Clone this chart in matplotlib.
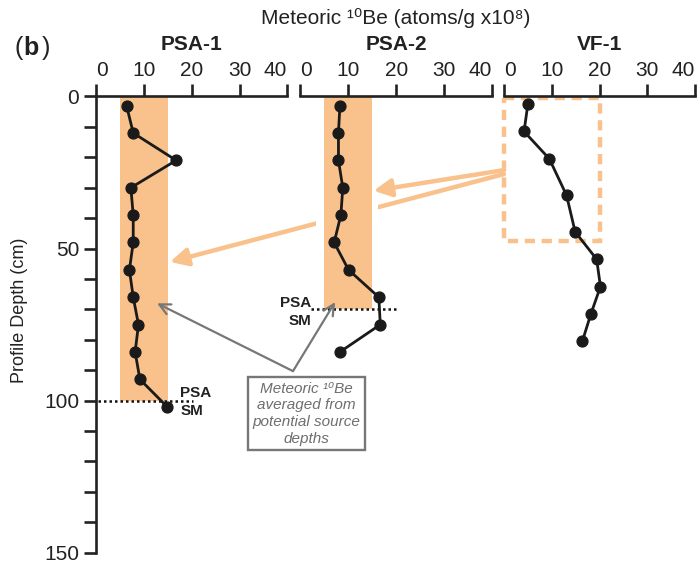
import matplotlib
matplotlib.use("Agg")
import matplotlib.pyplot as plt
from matplotlib.patches import ConnectionPatch, Rectangle

plt.rcParams['font.family'] = ['Liberation Sans', 'DejaVu Sans']

# ---- data ----
psa1_conc = [6.3, 7.7, 16.7, 7.2, 7.7, 7.7, 6.9, 7.7, 8.8, 8.1, 9.1, 14.8]
psa1_depth = [3, 12, 21, 30, 39, 48, 57, 66, 75, 84, 93, 102]
psa2_conc = [8.3, 8.0, 8.0, 8.9, 8.5, 7.1, 10.1, 16.4, 16.7, 8.3]
psa2_depth = [3, 12, 21, 30, 39, 48, 57, 66, 75, 84]
vf1_conc = [5.0, 4.2, 9.5, 13.1, 14.9, 19.4, 20.2, 18.2, 16.4]
vf1_depth = [2.5, 11.5, 20.5, 32.5, 44.5, 53.5, 62.5, 71.5, 80.5]

profile_names = ["PSA-1", "PSA-2", "VF-1"]
x_ticks = [0, 10, 20, 30, 40]
x_tick_labels = ["0", "10", "20", "30", "40"]
y_major = [0, 50, 100, 150]
y_minor = list(range(0, 151, 10))

band_x = (5, 15)          # averaged source range
psa1_sm_depth = 100
psa2_sm_depth = 70
vf1_source_depth = (0.5, 47.5)
vf1_source_x = (0, 20.2)

W, H = 700, 562
fig = plt.figure(figsize=(W / 100, H / 100), dpi=100)
fig.patch.set_facecolor("white")

ORANGE = "#F9C18C"
GRAY = "#777777"
INK = "#222222"
LW = 1.9

def fx(p):
    return p / W

bottom = 1 - 552.7 / H
height = (552.7 - 96.5) / H
lefts_px = [96.5, 300.0, 504.0]
widths_px = [190.8, 192.3, 191.0]
axes = []
for lp, wp in zip(lefts_px, widths_px):
    ax = fig.add_axes([fx(lp), bottom, fx(wp), height])
    ax.patch.set_visible(False)
    ax.set_xlim(0, 40)
    ax.set_ylim(150, 0)
    ax.xaxis.tick_top()
    ax.set_xticks(x_ticks, labels=x_tick_labels)
    ax.tick_params(axis="x", direction="out", length=8.5, width=LW,
                   labelsize=15, pad=3.5, colors=INK)
    lbls = ax.get_xticklabels()
    lbls[0].set_horizontalalignment("left")
    lbls[-1].set_horizontalalignment("right")
    for s in ["right", "bottom"]:
        ax.spines[s].set_visible(False)
    ax.spines["top"].set_linewidth(LW)
    ax.spines["top"].set_color(INK)
    axes.append(ax)

ax1, ax2, ax3 = axes
ax1.spines["left"].set_linewidth(LW)
ax1.spines["left"].set_color(INK)
ax1.set_yticks(y_major)
ax1.set_yticks(y_minor, minor=True)
ax1.tick_params(axis="y", which="both", direction="out", length=8.5,
                width=LW, labelsize=15, pad=4, colors=INK)
for ax in (ax2, ax3):
    ax.spines["left"].set_visible(False)
    ax.set_yticks([])

# bands
ax1.fill_betweenx([0, psa1_sm_depth], band_x[0], band_x[1], color=ORANGE,
                  lw=0, zorder=1)
ax2.fill_betweenx([0, psa2_sm_depth], band_x[0] - 1.6, band_x[1] + 1.3,
                  color="white", lw=0, zorder=0.8)
ax2.fill_betweenx([0, psa2_sm_depth], band_x[0], band_x[1], color=ORANGE,
                  lw=0, zorder=1)

# dashed source box on VF-1
ax3.add_patch(Rectangle((vf1_source_x[0], vf1_source_depth[0]),
                        vf1_source_x[1] - vf1_source_x[0],
                        vf1_source_depth[1] - vf1_source_depth[0],
                        fill=False, edgecolor=ORANGE, lw=3.2,
                        linestyle=(0, (2.3, 1.5)), clip_on=False, zorder=1))

# profiles
for ax, c, d in ((ax1, psa1_conc, psa1_depth), (ax2, psa2_conc, psa2_depth),
                 (ax3, vf1_conc, vf1_depth)):
    ax.plot(c, d, color="#1a1a1a", lw=2.0, marker="o", markersize=7.8,
            clip_on=False, zorder=3)

# SM boundary lines
ax1.plot([0.3, 20.2], [psa1_sm_depth] * 2, color="#111111", lw=1.8,
         linestyle=(0, (1, 1.2)), clip_on=False, zorder=2)
ax2.plot([2.2, 20.1], [psa2_sm_depth] * 2, color="#111111", lw=1.8,
         linestyle=(0, (1, 1.2)), clip_on=False, zorder=2)
ax1.text(17.5, 97.5, "PSA", fontsize=11, fontweight="bold", ha="left",
         va="center", color=INK)
ax1.text(17.7, 103.5, "SM", fontsize=11, fontweight="bold", ha="left",
         va="center", color=INK)
ax2.text(2.4, 67.9, "PSA", fontsize=11, fontweight="bold", ha="right",
         va="center", color=INK, clip_on=False)
ax2.text(2.3, 73.8, "SM", fontsize=11, fontweight="bold", ha="right",
         va="center", color=INK, clip_on=False)

# orange arrows
arrow_orange = dict(arrowstyle="-|>,head_length=0.75,head_width=0.38",
                    mutation_scale=14, color=ORANGE, lw=3.2)
long_arrow = ConnectionPatch(xyA=(0, 25.5), coordsA=ax3.transData,
                             xyB=(15.4, 54.4), coordsB=ax1.transData,
                             shrinkA=0, shrinkB=0, **arrow_orange)
long_arrow.set_zorder(-1)
fig.add_artist(long_arrow)
short_arrow = ConnectionPatch(xyA=(0, 24.2), coordsA=ax3.transData,
                              xyB=(15.3, 31), coordsB=ax2.transData,
                              shrinkA=0, shrinkB=0, **arrow_orange)
short_arrow.set_zorder(5)
fig.add_artist(short_arrow)

# gray callout box and arrows
ax2.text(1.35, 104.3, "Meteoric \u00b9\u2070Be\naveraged from\npotential source\ndepths",
         fontsize=11, style="italic", color="#6e6e6e", ha="center",
         va="center", linespacing=1.25, clip_on=False, zorder=6,
         bbox=dict(boxstyle="square,pad=0.3", facecolor="white",
                   edgecolor=GRAY, lw=1.7))
arrow_gray = dict(arrowstyle="->,head_length=0.6,head_width=0.3",
                  mutation_scale=13, color=GRAY, lw=1.6)
for target_ax, xy in ((ax1, (12.7, 68)), (ax2, (7.3, 67.6))):
    cp = ConnectionPatch(xyA=(-1.46, 90.3), coordsA=ax2.transData,
                         xyB=xy, coordsB=target_ax.transData,
                         shrinkA=0, shrinkB=0, **arrow_gray)
    cp.set_zorder(5)
    fig.add_artist(cp)

# titles and labels
for lp, wp, name in zip(lefts_px, widths_px, profile_names):
    fig.text(fx(lp + wp / 2), 1 - 45 / H, name, fontsize=15,
             fontweight="bold", ha="center", va="center", color=INK)
fig.text(fx(396), 1 - 18 / H, "Meteoric \u00b9\u2070Be (atoms/g x10\u2078)",
         fontsize=15, ha="center", va="center", color=INK)
fig.text(fx(15), 1 - 48 / H, "(", fontsize=18, ha="left", va="center",
         color=INK)
fig.text(fx(23.5), 1 - 48 / H, "b", fontsize=18, fontweight="bold",
         ha="left", va="center", color=INK)
fig.text(fx(41.5), 1 - 48 / H, ")", fontsize=18, ha="left", va="center",
         color=INK)
fig.text(fx(20), 1 - 310 / H, "Profile Depth (cm)", fontsize=13,
         rotation=90, ha="center", va="center", color=INK)

fig.savefig("out.png", dpi=100, facecolor="white")
